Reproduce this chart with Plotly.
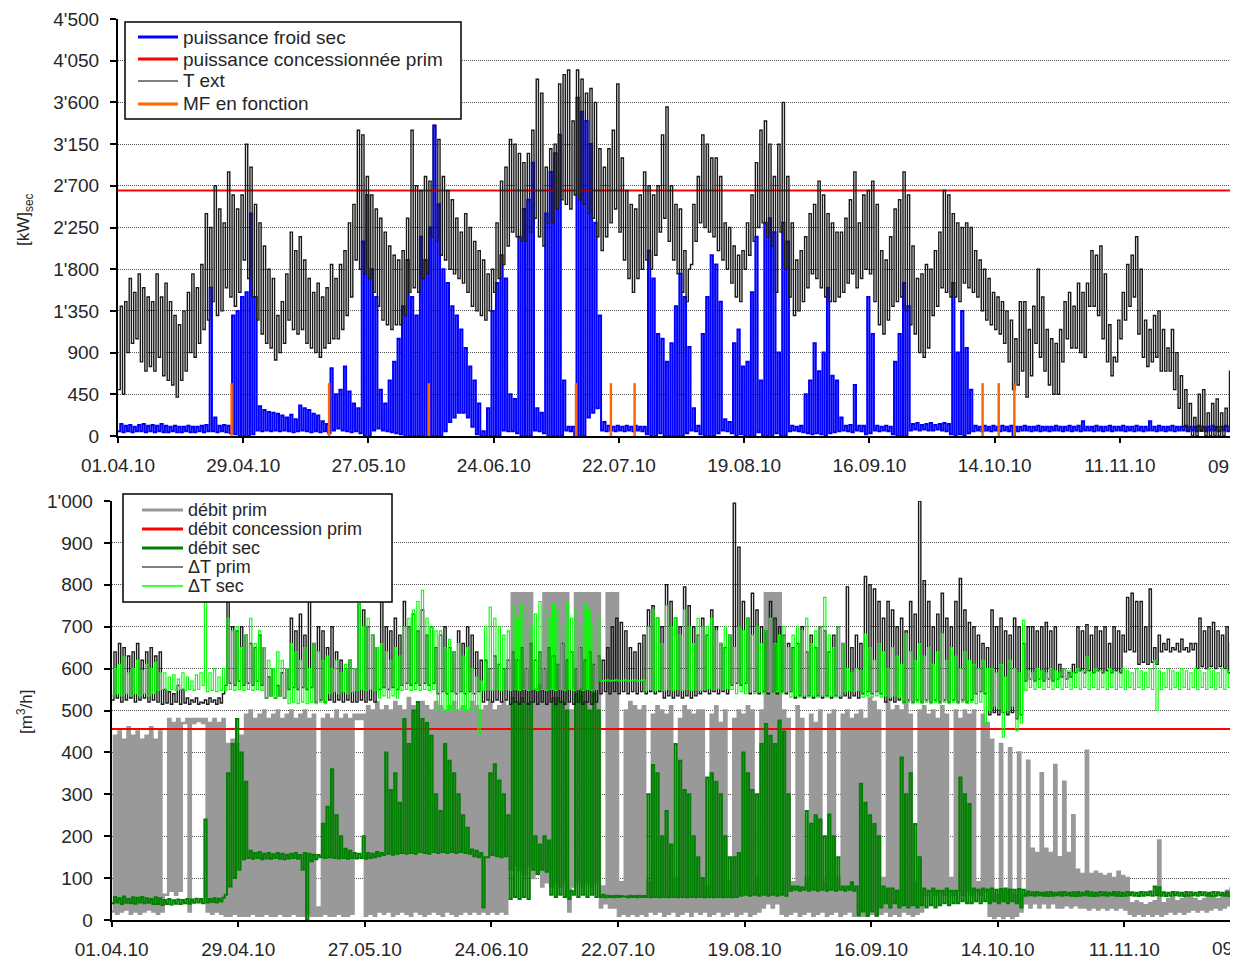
import pandas as pd
import plotly.graph_objects as go

# ---------------- data (daily values) ----------------
START = "2010-04-01"
TICK_LABEL_LAST = "09.12.10"

# top chart: T ext (scaled on kW axis), daily max / min
TEXT_MAX = [
    1400, 1450, 1700, 1550, 1750, 1600, 1500,
    1450, 1750, 1500, 1650, 1450, 1300, 1200,
    1350, 1550, 1750, 1600, 1850, 2400, 2250,
    2700, 2450, 2300, 2850, 2600, 2450, 2600,
    3150, 2900, 2500, 2300, 2050, 1800, 1700,
    1300, 1450, 1750, 2200, 2000, 2150, 1900,
    1700, 1550, 1650, 1500, 1600, 1850, 1700,
    1850, 2000, 2300, 2500, 3300, 3250, 2800,
    2600, 2450, 2350, 2200, 2050, 1950, 1900,
    2000, 2350, 3300, 2700, 2650, 2800, 2750,
    3350, 3200, 2800, 2650, 2550, 2350, 2200,
    2400, 2250, 2100, 2000, 1900, 1750, 1800,
    2300, 2750, 2900, 3200, 3150, 3050, 2950,
    3050, 3300, 3850, 3700, 2900, 3100, 3150,
    3800, 3900, 3950, 3400, 3950, 3850, 3700,
    3750, 3600, 3100, 2900, 3100, 3300, 3800,
    3000, 2650, 2500, 2450, 2600, 2850, 2700,
    2600, 2700, 3250, 3550, 2700, 2500, 2450,
    2000, 1800, 2500, 2800, 3250, 3150, 3000,
    3000, 2800, 2300, 2250, 2050, 1950, 2000,
    2300, 2600, 2950, 3300, 3400, 3150, 2800,
    3150, 3600, 2800, 2300, 1900, 2000, 2150,
    2400, 2500, 2750, 2600, 2400, 2300, 2200,
    2200, 2350, 2550, 2850, 2300, 2600, 2650,
    2750, 2500, 2000, 1900, 2150, 2450, 2550,
    2850, 2600, 2050, 1700, 1750, 1850, 1800,
    2000, 2200, 2650, 2600, 2400, 2300, 2250,
    2300, 2250, 2000, 1900, 1800, 1700, 1550,
    1500, 1450, 1350, 1250, 1050, 1450, 1450,
    1150, 1400, 1800, 1500, 1150, 1050, 1000,
    1150, 1450, 1550, 1400, 1650, 1550, 1650,
    2000, 1950, 2050, 1750, 1200, 850, 1250,
    1550, 1850, 1950, 2150, 1800, 1250, 1150,
    1300, 1350, 1150, 950, 1150, 900, 650,
    500, 350, 200, 450, 500, 250, 350,
    400, 250, 300, 700, 650,
]
TEXT_MIN = [
    500, 450, 900, 1000, 1050, 800, 700,
    750, 700, 850, 650, 600, 550, 420,
    600, 700, 900, 850, 1000, 1150, 1250,
    1450, 1300, 1350, 1600, 1500, 1400, 1550,
    1900, 1700, 1500, 1250, 1100, 1000, 950,
    820, 900, 1000, 1250, 1150, 1100, 1150,
    1000, 950, 900, 850, 950, 1000, 1050,
    1050, 1150, 1300, 1500, 1900, 1800, 1750,
    1700, 1550, 1400, 1250, 1200, 1150, 1200,
    1200, 1300, 1550, 1600, 1550, 1700, 1750,
    2150, 2100, 1950, 1900, 1800, 1750, 1700,
    1650, 1550, 1400, 1350, 1300, 1250, 1350,
    1550, 1700, 1850, 2050, 2200, 2150, 2100,
    2100, 2200, 2350, 2150, 2050, 2300, 2300,
    2450, 2550, 2500, 2450, 2600, 2550, 2500,
    2400, 2350, 2150, 2000, 2150, 2300, 2450,
    2200, 1900, 1700, 1550, 1700, 1800, 1900,
    1800, 1950, 2200, 2350, 2100, 1900, 1750,
    1550, 1450, 1850, 2100, 2300, 2250, 2200,
    2150, 2000, 1900, 1800, 1650, 1500, 1450,
    1800, 1950, 2100, 2250, 2300, 2150, 2050,
    1550, 2200, 1800, 1500, 1300, 1350, 1450,
    1600, 1750, 1700, 1600, 1500, 1450, 1450,
    1500, 1550, 1650, 1750, 1600, 1700, 1800,
    1750, 1450, 1200, 1100, 1250, 1400, 1450,
    1500, 1350, 1200, 1100, 900, 850, 950,
    1300, 1400, 1600, 1550, 1500, 1500, 1450,
    1650, 1600, 1550, 1500, 1350, 1250, 1200,
    1150, 1100, 1000, 800, 500, 550, 700,
    420, 650, 1000, 850, 700, 550, 450,
    450, 800, 1050, 950, 950, 900, 850,
    1400, 1400, 1300, 1050, 800, 650, 800,
    1050, 1250, 1400, 1500, 1100, 850, 750,
    800, 850, 700, 700, 700, 500, 300,
    100, 50, 0, 0, 50, 0, 0,
    0, 0, 0, 100, 200,
]

# top chart: puissance froid sec, daily max / min
PF_MAX = [
    130, 110, 120, 100, 120, 130, 110,
    120, 110, 130, 110, 100, 110, 100,
    100, 110, 100, 100, 110, 120, 1600,
    200, 110, 120, 110, 1300, 1350, 1500,
    1550, 2400, 1500, 320, 280, 260, 250,
    240, 220, 200, 230, 180, 330, 300,
    280, 240, 220, 160, 130, 730, 450,
    500, 750, 480, 350, 300, 2100, 2600,
    1800, 1500, 500, 350, 600, 800, 1050,
    1400, 1900, 1500, 1300, 2150, 1900, 2250,
    3350, 2500, 1800, 1650, 1400, 1300, 1150,
    950, 750, 600, 350, 50, 300, 1350,
    1650, 1950, 1700, 450, 400, 2150, 2450,
    2550, 2950, 300, 250, 2400, 2850, 3050,
    3250, 600, 100, 100, 3650, 3500, 3400,
    3150, 2300, 1300, 150, 110, 100, 110,
    100, 110, 100, 110, 100, 100, 2000,
    1700, 1100, 1050, 800, 1000, 1400, 1750,
    1500, 960, 300, 110, 1100, 1500, 1950,
    1850, 1450, 180, 150, 1000, 1150, 750,
    800, 1550, 2150, 600, 2300, 2350, 2200,
    900, 2300, 2100, 110, 100, 110, 450,
    600, 1000, 700, 900, 1600, 650, 600,
    200, 110, 120, 550, 110, 110, 1500,
    1100, 110, 100, 110, 100, 800, 1100,
    1650, 1400, 130, 140, 120, 130, 140,
    120, 130, 140, 130, 1650, 900, 1350,
    950, 500, 110, 100, 110, 100, 110,
    100, 110, 100, 110, 100, 100, 110,
    100, 100, 110, 100, 100, 100, 110,
    100, 100, 110, 100, 110, 160, 100,
    100, 110, 100, 100, 110, 100, 100,
    110, 100, 100, 110, 100, 100, 160,
    100, 110, 100, 100, 110, 100, 100,
    110, 100, 100, 110, 100, 100, 110,
    100, 100, 110, 100, 100,
]
PF_MIN = [
    50, 40, 50, 40, 50, 50, 40,
    50, 40, 50, 40, 40, 50, 40,
    40, 50, 40, 40, 50, 40, 50,
    50, 40, 50, 40, 30, 20, 0,
    0, 0, 20, 60, 50, 60, 50,
    60, 50, 60, 50, 40, 50, 60,
    50, 40, 50, 40, 50, 30, 60,
    80, 60, 50, 40, 50, 30, 0,
    0, 60, 80, 60, 50, 40, 30,
    20, 0, 0, 0, 0, 0, 0,
    0, 0, 0, 50, 150, 200, 250,
    250, 200, 100, 20, 0, 0, 0,
    0, 0, 60, 50, 50, 30, 0,
    0, 0, 60, 50, 30, 0, 0,
    0, 0, 60, 50, 0, 0, 0,
    200, 250, 300, 60, 50, 60, 50,
    60, 50, 60, 50, 60, 50, 20,
    0, 0, 30, 0, 0, 0, 0,
    0, 30, 60, 50, 20, 0, 0,
    0, 30, 60, 50, 30, 0, 20,
    0, 0, 0, 40, 0, 0, 0,
    30, 0, 0, 50, 60, 50, 40,
    30, 20, 30, 20, 0, 30, 40,
    50, 60, 50, 40, 60, 50, 20,
    30, 60, 50, 60, 50, 20, 0,
    0, 0, 60, 70, 60, 70, 60,
    60, 70, 60, 50, 20, 0, 20,
    0, 30, 50, 60, 50, 60, 50,
    60, 50, 60, 50, 0, 50, 60,
    60, 50, 60, 50, 60, 50, 60,
    60, 50, 60, 50, 60, 50, 60,
    60, 50, 60, 50, 60, 50, 60,
    60, 50, 60, 50, 60, 50, 60,
    60, 50, 60, 50, 60, 50, 60,
    60, 50, 60, 50, 60, 50, 60,
    60, 50, 60, 50, 60,
]

P_CONC = 2650          # puissance concessionnée prim
MF_DAYS = [25.4, 47.2, 69.5, 102.4, 110.2, 115.5, 193.3, 196.9, 200.4]
MF_LEVEL = 570

# bottom chart: débit prim, daily max / min
DP_MAX = [
    440, 450, 430, 460, 440, 450, 430, 440, 460, 430,
    450, 60, 480, 470, 480, 470, 480, 480, 480, 480,
    480, 470, 480, 470, 480, 420, 430, 420, 440, 490,
    500, 480, 490, 500, 480, 490, 500, 480, 490, 500,
    480, 490, 500, 480, 490, 30, 480, 490, 480, 500,
    480, 490, 480, 490, 490, 490, 510, 500, 520, 500,
    510, 500, 520, 510, 500, 530, 510, 500, 520, 510,
    500, 520, 510, 500, 510, 520, 500, 510, 500, 520,
    510, 500, 510, 520, 500, 510, 520, 510, 780, 780,
    780, 780, 780, 550, 560, 780, 780, 780, 780, 780,
    780, 500, 780, 780, 780, 780, 780, 780, 80, 780,
    780, 780, 90, 500, 520, 510, 500, 510, 90, 490,
    510, 500, 490, 510, 100, 480, 510, 500, 490, 500,
    500, 80, 490, 510, 470, 500, 90, 480, 500, 490,
    510, 500, 100, 500, 780, 780, 780, 780, 500, 480,
    90, 510, 480, 100, 490, 470, 500, 90, 490, 500,
    100, 490, 500, 480, 490, 500, 480, 530, 520, 500,
    100, 520, 500, 510, 500, 520, 490, 90, 500, 510,
    490, 500, 480, 510, 490, 100, 500, 480, 500, 490,
    500, 90, 490, 470, 430, 60, 420, 70, 410, 60,
    400, 60, 380, 170, 160, 350, 170, 160, 370, 150,
    330, 160, 250, 120, 110, 404, 110, 115, 110, 105,
    110, 100, 115, 105, 100, 40, 45, 40, 35, 40,
    45, 190, 40, 50, 55, 45, 50, 60, 55, 50,
    45, 50, 60, 55, 50, 60, 70, 75, 80, 85,
]
DP_MIN = [
    20, 15, 20, 25, 15, 20, 15, 20, 25, 20,
    15, 20, 60, 70, 60, 70, 470, 20, 470, 475,
    470, 20, 15, 20, 15, 10, 10, 15, 10, 10,
    10, 15, 10, 10, 15, 10, 10, 15, 10, 10,
    15, 10, 10, 15, 10, 10, 10, 15, 10, 10,
    15, 10, 10, 15, 480, 480, 10, 15, 10, 20,
    15, 20, 10, 15, 20, 15, 10, 20, 15, 10,
    15, 20, 15, 10, 20, 15, 10, 15, 20, 15,
    20, 15, 20, 15, 20, 15, 20, 15, 120, 130,
    120, 110, 130, 100, 110, 80, 90, 80, 90, 80,
    90, 20, 80, 90, 80, 90, 80, 90, 30, 40,
    30, 30, 10, 15, 10, 15, 10, 15, 10, 20,
    15, 20, 10, 15, 20, 10, 15, 20, 10, 20,
    15, 20, 10, 15, 20, 10, 15, 20, 10, 15,
    20, 10, 15, 20, 30, 40, 30, 40, 15, 10,
    15, 20, 10, 15, 20, 10, 15, 20, 10, 15,
    20, 10, 15, 20, 10, 15, 10, 10, 15, 10,
    15, 20, 10, 15, 10, 20, 15, 10, 15, 20,
    60, 70, 60, 70, 60, 70, 60, 70, 60, 70,
    60, 70, 60, 70, 10, 5, 10, 5, 10, 5,
    10, 20, 40, 30, 40, 30, 40, 30, 40, 30,
    30, 35, 30, 35, 30, 30, 25, 30, 25, 30,
    25, 30, 25, 30, 25, 15, 10, 15, 10, 15,
    10, 15, 10, 15, 20, 15, 20, 15, 20, 25,
    20, 25, 20, 25, 30, 25, 30, 35, 30, 40,
]
Q_CONC = 456           # débit concession prim

# bottom chart: débit sec, daily max / min
DS_MAX = [
    55, 52, 56, 50, 54, 53, 55, 52, 50, 54,
    52, 48, 50, 47, 49, 48, 50, 49, 51, 50,
    240, 50, 52, 51, 53, 350, 420, 480, 400, 330,
    165, 160, 162, 158, 160, 157, 160, 158, 156, 158,
    160, 155, 160, 158, 156, 155, 230, 270, 360, 250,
    200, 170, 165, 160, 158, 200, 160, 158, 162, 160,
    400, 310, 350, 280, 480, 420, 500, 520, 480, 470,
    440, 300, 260, 420, 380, 350, 300, 250, 220, 168,
    165, 160, 150, 350, 372, 333, 300, 250, 530, 520,
    530, 516, 520, 200, 180, 200, 190, 530, 530, 520,
    500, 70, 540, 550, 520, 500, 540, 500, 60, 58,
    57, 58, 57, 56, 58, 57, 58, 57, 300, 370,
    350, 200, 260, 180, 420, 380, 310, 300, 200, 150,
    100, 340, 350, 330, 300, 200, 150, 150, 160, 400,
    350, 310, 300, 420, 468, 440, 420, 476, 450, 300,
    80, 80, 78, 260, 230, 250, 240, 200, 252, 200,
    150, 80, 80, 90, 80, 325, 280, 250, 229, 200,
    80, 75, 75, 70, 388, 300, 350, 229, 150, 75,
    70, 75, 70, 70, 75, 70, 70, 340, 300, 277,
    75, 72, 75, 73, 75, 72, 74, 75, 73, 72,
    74, 72, 68, 66, 67, 65, 66, 67, 65, 66,
    67, 65, 66, 67, 65, 68, 66, 65, 67, 66,
    65, 67, 66, 65, 67, 66, 65, 67, 66, 68,
    80, 78, 66, 65, 67, 66, 65, 67, 66, 65,
    67, 66, 65, 67, 66, 65, 67, 66, 65, 67,
]
DS_MIN = [
    40, 42, 38, 41, 40, 39, 42, 40, 41, 38,
    38, 36, 38, 37, 39, 38, 40, 39, 41, 42,
    40, 42, 43, 42, 44, 60, 80, 100, 120, 145,
    148, 146, 148, 145, 147, 146, 148, 146, 145, 147,
    148, 146, 120, 0, 140, 145, 150, 148, 150, 148,
    147, 148, 146, 148, 147, 148, 146, 148, 150, 152,
    155, 158, 156, 158, 160, 158, 160, 158, 162, 160,
    158, 162, 160, 162, 160, 162, 160, 162, 160, 158,
    152, 150, 30, 150, 155, 152, 150, 152, 50, 55,
    50, 55, 50, 120, 110, 120, 115, 60, 55, 60,
    55, 50, 60, 55, 60, 55, 60, 55, 55, 54,
    55, 54, 55, 56, 54, 55, 54, 55, 55, 54,
    55, 54, 55, 54, 55, 54, 55, 54, 55, 54,
    55, 54, 55, 54, 55, 54, 55, 54, 55, 58,
    60, 58, 60, 58, 60, 58, 60, 58, 60, 58,
    70, 72, 70, 72, 70, 72, 70, 72, 70, 72,
    70, 72, 70, 72, 70, 10, 20, 10, 20, 10,
    30, 40, 30, 40, 30, 35, 30, 35, 30, 35,
    30, 35, 30, 35, 40, 35, 40, 40, 45, 40,
    40, 45, 40, 45, 40, 45, 40, 45, 40, 45,
    40, 30, 58, 59, 58, 59, 58, 57, 58, 59,
    58, 59, 58, 57, 58, 59, 58, 57, 58, 59,
    58, 59, 58, 57, 58, 59, 58, 57, 58, 59,
    58, 59, 58, 57, 58, 59, 58, 57, 58, 59,
    58, 59, 58, 57, 58, 59, 58, 57, 58, 59,
]

# bottom chart: ΔT prim (scaled), daily max / min
TP_MAX = [
    640, 660, 650, 630, 640, 660, 620, 640, 650, 630,
    640, 550, 545, 540, 560, 550, 530, 525, 530, 520,
    525, 530, 525, 530, 540, 760, 700, 690, 700, 680,
    660, 650, 680, 650, 580, 600, 560, 590, 600, 720,
    690, 730, 680, 770, 660, 700, 690, 650, 700, 640,
    620, 600, 620, 600, 755, 740, 700, 680, 650, 770,
    700, 690, 720, 680, 760, 700, 730, 690, 740, 680,
    700, 650, 680, 700, 650, 640, 690, 660, 700, 680,
    640, 620, 620, 600, 630, 610, 600, 620, 640, 620,
    650, 600, 660, 620, 640, 600, 650, 630, 610, 660,
    620, 640, 600, 650, 620, 640, 610, 630, 620, 650,
    700, 720, 710, 690, 650, 640, 660, 680, 740, 750,
    720, 700, 800, 760, 720, 700, 795, 750, 700, 680,
    720, 680, 740, 700, 660, 650, 680, 995, 890, 760,
    720, 780, 740, 700, 690, 760, 720, 700, 680, 660,
    650, 660, 700, 640, 680, 650, 700, 690, 640, 680,
    700, 660, 795, 650, 680, 660, 820, 800, 790, 760,
    720, 760, 740, 700, 720, 690, 760, 730, 1000, 810,
    760, 700, 730, 780, 720, 700, 760, 815, 740, 710,
    700, 680, 660, 650, 740, 700, 720, 690, 680, 720,
    700, 660, 700, 700, 690, 700, 710, 690, 700, 610,
    600, 590, 610, 700, 690, 705, 680, 700, 690, 700,
    660, 700, 690, 680, 770, 780, 760, 760, 700, 790,
    650, 680, 660, 670, 650, 660, 670, 650, 660, 660,
    720, 690, 700, 710, 690, 680, 700, 660, 650, 640,
]
TP_MIN = [
    525, 530, 520, 525, 530, 520, 525, 530, 520, 525,
    520, 515, 518, 515, 520, 515, 518, 515, 520, 515,
    518, 515, 520, 515, 518, 560, 565, 560, 570, 560,
    565, 560, 570, 560, 530, 535, 530, 535, 530, 550,
    555, 550, 555, 550, 555, 520, 525, 520, 525, 520,
    525, 520, 525, 520, 520, 525, 520, 525, 520, 550,
    555, 550, 555, 550, 560, 565, 560, 565, 560, 565,
    560, 565, 540, 545, 540, 545, 540, 545, 540, 545,
    540, 545, 520, 525, 520, 525, 520, 525, 515, 520,
    515, 520, 515, 520, 515, 520, 515, 520, 515, 520,
    515, 520, 515, 520, 515, 520, 515, 520, 540, 545,
    540, 545, 540, 545, 540, 545, 540, 545, 540, 545,
    540, 545, 530, 535, 530, 535, 530, 535, 530, 535,
    540, 545, 540, 545, 540, 545, 540, 560, 565, 560,
    565, 540, 545, 540, 545, 540, 545, 540, 545, 540,
    545, 530, 535, 530, 535, 530, 535, 530, 535, 530,
    535, 530, 535, 530, 535, 530, 540, 545, 540, 545,
    540, 520, 525, 520, 525, 520, 525, 520, 525, 520,
    525, 520, 525, 520, 525, 520, 525, 520, 525, 520,
    525, 540, 545, 540, 490, 495, 490, 495, 490, 495,
    480, 490, 570, 575, 570, 575, 570, 575, 570, 575,
    580, 575, 580, 590, 595, 590, 595, 590, 595, 590,
    595, 590, 595, 590, 640, 645, 640, 610, 615, 610,
    615, 610, 640, 645, 640, 645, 640, 645, 640, 645,
    600, 605, 600, 605, 600, 605, 600, 590, 595, 590,
]

# bottom chart: ΔT sec (scaled), daily max / min
TS_MAX = [
    600, 610, 628, 590, 600, 620, 595, 610, 600, 615,
    590, 590, 580, 585, 575, 590, 580, 570, 585, 590,
    800, 590, 600, 580, 600, 720, 690, 700, 650, 680,
    720, 660, 690, 650, 620, 600, 640, 620, 600, 660,
    640, 620, 650, 600, 660, 640, 620, 630, 600, 620,
    590, 610, 620, 600, 755, 700, 720, 680, 650, 660,
    640, 620, 650, 630, 700, 720, 740, 760, 787, 720,
    700, 690, 690, 650, 670, 640, 660, 630, 650, 600,
    580, 570, 700, 747, 720, 700, 680, 690, 750, 720,
    755, 740, 700, 730, 760, 740, 720, 755, 740, 700,
    760, 720, 740, 700, 755, 740, 700, 720, 572, 573,
    572, 573, 572, 573, 572, 573, 572, 573, 700, 740,
    720, 660, 750, 700, 720, 680, 740, 700, 660, 720,
    700, 700, 720, 690, 660, 700, 680, 650, 700, 690,
    720, 680, 700, 660, 690, 720, 660, 680, 700, 650,
    680, 700, 690, 720, 660, 690, 700, 770, 680, 650,
    700, 660, 600, 590, 600, 595, 683, 650, 620, 660,
    640, 600, 650, 630, 610, 683, 640, 620, 660, 630,
    650, 610, 640, 683, 620, 650, 630, 600, 640, 620,
    610, 600, 620, 600, 600, 590, 610, 580, 620, 600,
    590, 715, 595, 590, 600, 595, 590, 600, 595, 590,
    600, 595, 590, 600, 595, 628, 590, 600, 595, 590,
    600, 595, 590, 600, 595, 590, 600, 595, 590, 600,
    620, 595, 590, 600, 595, 590, 600, 595, 590, 600,
    595, 590, 600, 595, 590, 600, 595, 590, 600, 595,
]
TS_MIN = [
    535, 540, 535, 540, 535, 540, 535, 540, 535, 540,
    548, 550, 548, 550, 548, 550, 548, 550, 548, 550,
    560, 545, 548, 545, 548, 548, 550, 548, 550, 548,
    550, 548, 550, 548, 530, 535, 530, 535, 530, 516,
    520, 516, 520, 516, 520, 516, 520, 516, 540, 545,
    540, 545, 540, 545, 548, 550, 548, 550, 548, 530,
    535, 530, 535, 530, 548, 550, 548, 550, 548, 550,
    548, 550, 500, 505, 500, 505, 500, 505, 500, 505,
    500, 444, 548, 550, 548, 550, 548, 550, 548, 550,
    548, 550, 548, 550, 548, 550, 548, 550, 548, 550,
    548, 550, 548, 550, 548, 550, 548, 550, 570, 571,
    570, 571, 570, 571, 570, 571, 570, 571, 548, 550,
    548, 550, 548, 550, 548, 550, 548, 550, 548, 550,
    548, 550, 552, 550, 552, 550, 552, 550, 540, 545,
    540, 545, 540, 545, 540, 545, 540, 545, 540, 545,
    532, 535, 532, 535, 532, 535, 532, 535, 532, 535,
    532, 535, 545, 548, 545, 548, 532, 535, 532, 535,
    532, 535, 532, 535, 532, 516, 520, 516, 520, 516,
    520, 516, 520, 516, 520, 516, 520, 516, 520, 516,
    520, 516, 520, 468, 500, 510, 505, 436, 500, 510,
    452, 470, 548, 555, 550, 555, 550, 555, 550, 555,
    550, 555, 550, 555, 550, 555, 550, 555, 550, 555,
    550, 555, 550, 555, 550, 555, 550, 555, 550, 555,
    550, 500, 550, 555, 550, 555, 550, 555, 550, 555,
    550, 555, 550, 555, 550, 555, 550, 555, 550, 555,
]

Y1_TICKS = [0, 450, 900, 1350, 1800, 2250, 2700, 3150, 3600, 4050, 4500]
Y1_LABELS = ["0", "450", "900", "1'350", "1'800", "2'250", "2'700", "3'150", "3'600", "4'050", "4'500"]
Y2_TICKS = [0, 100, 200, 300, 400, 500, 600, 700, 800, 900, 1000]
Y2_LABELS = ["0", "100", "200", "300", "400", "500", "600", "700", "800", "900", "1'000"]

# ---------------- helpers ----------------
OFF = 8                      # page body margin of the rendered html
W, H = 1238 - OFF, 961 - OFF
T0 = pd.Timestamp(START)
FONT = "Liberation Sans, Arial, sans-serif"
TXT = "#262626"


def fx(px):
    return (px - OFF) / W


def fy(py):
    return 1 - (py - OFF) / H


def day(d):
    return T0 + pd.Timedelta(days=d)


def daily(lo, hi):
    xs, ys = [], []
    for d in range(min(len(lo), len(hi))):
        xs += [day(d), day(d + 0.5)]
        ys += [lo[d], hi[d]]
    return xs, ys


fig = go.Figure()

# ---- top chart ----
x, y = daily(PF_MIN, PF_MAX)
fig.add_trace(go.Scatter(x=x, y=y, mode="lines", line=dict(color="#0000ff", width=2, shape="hv"),
                         name="puissance froid sec", xaxis="x", yaxis="y"))
fig.add_trace(go.Scatter(x=[day(0), day(252)], y=[P_CONC, P_CONC], mode="lines",
                         line=dict(color="#ff0000", width=2), name="puissance concessionnée prim",
                         xaxis="x", yaxis="y"))
x, y = daily(TEXT_MIN, TEXT_MAX)
fig.add_trace(go.Scatter(x=x, y=y, mode="lines", line=dict(color="#1a1a1a", width=1.4, shape="hv"),
                         name="T ext", xaxis="x", yaxis="y"))
mx, my = [], []
for t in MF_DAYS:
    mx += [day(t), day(t), None]
    my += [0, MF_LEVEL, None]
fig.add_trace(go.Scatter(x=mx, y=my, mode="lines", line=dict(color="#ff6600", width=2.5),
                         name="MF en fonction", xaxis="x", yaxis="y"))

# ---- bottom chart ----
x, y = daily(DP_MIN, DP_MAX)
fig.add_trace(go.Scatter(x=x, y=y, mode="lines", line=dict(color="#999999", width=2.5, shape="hv"),
                         name="débit prim", xaxis="x2", yaxis="y2"))
fig.add_trace(go.Scatter(x=[day(0), day(252)], y=[Q_CONC, Q_CONC], mode="lines",
                         line=dict(color="#ff0000", width=2), name="débit concession prim",
                         xaxis="x2", yaxis="y2"))
x, y = daily(DS_MIN, DS_MAX)
fig.add_trace(go.Scatter(x=x, y=y, mode="lines", line=dict(color="#008000", width=2, shape="hv"),
                         name="débit sec", xaxis="x2", yaxis="y2"))
x, y = daily(TP_MIN, TP_MAX)
fig.add_trace(go.Scatter(x=x, y=y, mode="lines", line=dict(color="#1a1a1a", width=1.4, shape="hv"),
                         name="ΔT prim", xaxis="x2", yaxis="y2"))
x, y = daily(TS_MIN, TS_MAX)
fig.add_trace(go.Scatter(x=x, y=y, mode="lines", line=dict(color="#00ff00", width=1.1, shape="hv"),
                         name="ΔT sec", xaxis="x2", yaxis="y2"))

DAY_MS = 86400000
common_x = dict(type="date", tick0=START, dtick=28 * DAY_MS, tickformat="%d.%m.%y",
                showline=True, linecolor="black", linewidth=2, ticks="outside", ticklen=5,
                tickwidth=2, tickcolor="black", showgrid=False, zeroline=False, automargin=False,
                tickfont=dict(family=FONT, size=19, color=TXT), ticklabelstandoff=6)
common_y = dict(showline=True, linecolor="black", linewidth=2, ticks="outside", ticklen=6,
                tickwidth=2, tickcolor="black", showgrid=True, gridcolor="#555555",
                griddash="1px,1px", gridwidth=1, zeroline=False, automargin=False,
                tickfont=dict(family=FONT, size=19, color=TXT), ticklabelstandoff=7)

fig.update_layout(
    width=W, height=H, margin=dict(l=0, r=0, t=0, b=0, pad=0, autoexpand=False), showlegend=False,
    paper_bgcolor="white", plot_bgcolor="white",
    xaxis=dict(domain=[fx(118), 1], range=[day(0), day(250.4)], anchor="y", **common_x),
    yaxis=dict(domain=[fy(436), fy(19)], range=[0, 4500], tickvals=Y1_TICKS, ticktext=Y1_LABELS,
               anchor="x", **common_y),
    xaxis2=dict(domain=[fx(111.7), 1], range=[day(0), day(249.16)], anchor="y2", **common_x),
    yaxis2=dict(domain=[fy(920), fy(501)], range=[0, 1000], tickvals=Y2_TICKS, ticktext=Y2_LABELS,
                anchor="x2", **common_y),
)

# ---- legends drawn as boxes with sample lines and text ----
shapes, annots = [], []


def legend(box, rows, x0, x1, tx, fsize, items):
    shapes.append(dict(type="rect", xref="paper", yref="paper", x0=fx(box[0]), x1=fx(box[1]),
                       y0=fy(box[3]), y1=fy(box[2]), line=dict(color="black", width=1.5),
                       fillcolor="white", layer="above"))
    for ry, (label, color, width) in zip(rows, items):
        shapes.append(dict(type="line", xref="paper", yref="paper", x0=fx(x0), x1=fx(x1),
                           y0=fy(ry), y1=fy(ry), line=dict(color=color, width=width), layer="above"))
        annots.append(dict(xref="paper", yref="paper", x=fx(tx), y=fy(ry), text=label,
                           showarrow=False, xanchor="left", yanchor="middle",
                           font=dict(family=FONT, size=fsize, color=TXT)))


legend((125, 461, 22, 119), [37, 59, 81, 104], 138, 178, 181, 19, [
    ("puissance froid sec", "#0000ff", 3),
    ("puissance concessionnée prim", "#ff0000", 3),
    ("T ext", "#555555", 1.5),
    ("MF en fonction", "#ff6600", 3),
])
legend((123, 392, 494, 602), [510, 529, 548, 567, 586], 142, 183, 186, 18, [
    ("débit prim", "#999999", 3),
    ("débit concession prim", "#ff0000", 3),
    ("débit sec", "#008000", 3),
    ("ΔT prim", "#555555", 1.5),
    ("ΔT sec", "#00ff00", 1.5),
])

annots.append(dict(xref="paper", yref="paper", x=fx(25), y=fy(220), text="[kW]<sub>sec</sub>",
                   textangle=-90, showarrow=False, xanchor="center", yanchor="middle",
                   font=dict(family=FONT, size=17, color=TXT)))
annots.append(dict(xref="paper", yref="paper", x=fx(25), y=fy(712), text="[m<sup>3</sup>/h]",
                   textangle=-90, showarrow=False, xanchor="center", yanchor="middle",
                   font=dict(family=FONT, size=17, color=TXT)))
# partially visible last tick label at the right edge (as in the reference)
annots.append(dict(xref="paper", yref="paper", x=fx(1245), y=fy(466), text=TICK_LABEL_LAST,
                   showarrow=False, xanchor="center", yanchor="middle",
                   font=dict(family=FONT, size=19, color=TXT)))
annots.append(dict(xref="paper", yref="paper", x=fx(1249), y=fy(948), text=TICK_LABEL_LAST,
                   showarrow=False, xanchor="center", yanchor="middle",
                   font=dict(family=FONT, size=19, color=TXT)))

fig.update_layout(shapes=shapes, annotations=annots)
fig.write_html("out.html")
